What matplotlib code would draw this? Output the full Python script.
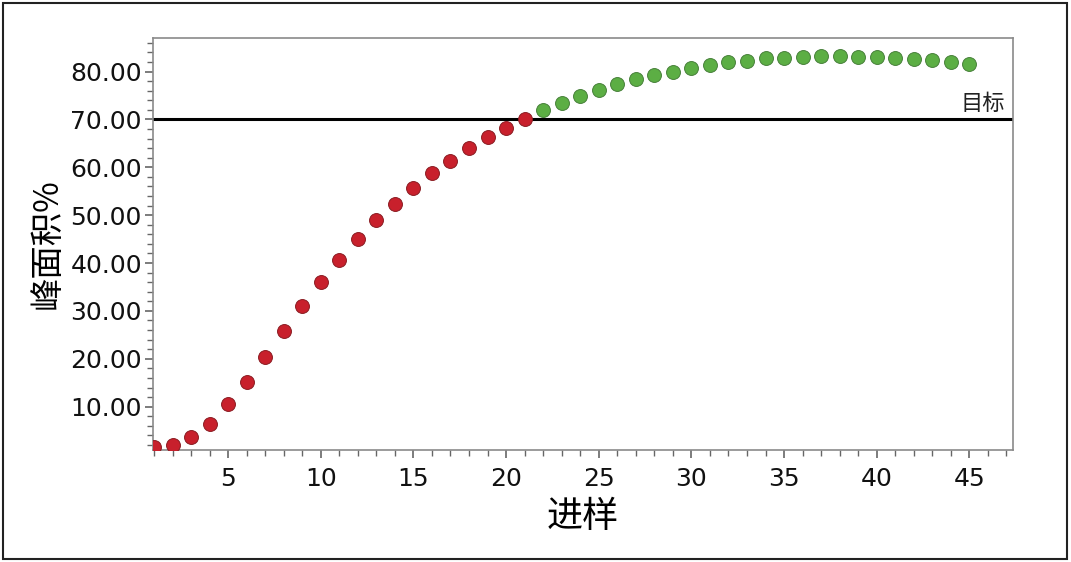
import numpy as np
import matplotlib.pyplot as plt
from matplotlib.ticker import MultipleLocator, FormatStrFormatter
from matplotlib.patches import Rectangle

plt.rcParams['font.family'] = ['DejaVu Sans', 'Noto Sans CJK SC']

# runs below target (red) and above target (green)
x_low = list(range(1, 22))
y_low = [1.5, 2.0, 3.6, 6.4, 10.5, 15.2, 20.4, 25.9, 31.0, 36.0, 40.6,
         45.0, 49.0, 52.4, 55.7, 58.7, 61.4, 64.0, 66.3, 68.1, 70.0]
x_high = list(range(22, 46))
y_high = [71.9, 73.5, 74.9, 76.1, 77.3, 78.4, 79.3, 80.0, 80.8, 81.3, 81.9,
          82.2, 82.9, 82.9, 83.1, 83.2, 83.2, 83.1, 83.1, 82.9, 82.7, 82.4,
          82.0, 81.5]
target = 70.0
target_label = "目标"

fig = plt.figure(figsize=(10.71, 5.62), dpi=100)
ax = fig.add_axes([0.1429, 0.1993, 0.8029, 0.7331])

ax.axhline(target, color='black', lw=2.2, zorder=1)
ax.scatter(x_low, y_low, s=100, color='#c8202c', edgecolors='#8a1c22',
           linewidths=0.7, zorder=3)
ax.scatter(x_high, y_high, s=100, color='#5cae44', edgecolors='#47803a',
           linewidths=0.7, zorder=3)

ax.text(46.9, target + 1.0, target_label, ha='right', va='bottom',
        fontsize=16, family=['Noto Sans CJK SC'], color='#222222')

ax.set_xlim(0.95, 47.35)
ax.set_ylim(0.95, 87.0)
ax.xaxis.set_major_locator(MultipleLocator(5))
ax.xaxis.set_minor_locator(MultipleLocator(1))
ax.yaxis.set_major_locator(MultipleLocator(10))
ax.yaxis.set_minor_locator(MultipleLocator(2))
ax.yaxis.set_major_formatter(FormatStrFormatter('%.2f'))
ax.set_yticks(np.arange(10, 90, 10))

for s in ax.spines.values():
    s.set_color('#8a8a8a')
    s.set_linewidth(1.2)

ax.tick_params(which='major', length=6, width=1.2, color='#666666',
               labelsize=18, labelcolor='#111111', pad=2)
ax.tick_params(axis='x', which='major', pad=6)
ax.tick_params(which='minor', length=4, width=1.0, color='#666666')

ax.set_xlabel("进样", fontsize=26, family=['Noto Sans CJK SC'], labelpad=6)
ax.set_ylabel("峰面积%", fontsize=24, family=['Noto Sans CJK SC'], labelpad=4)

fig.patches.append(Rectangle((0.003, 0.006), 0.993, 0.988, transform=fig.transFigure,
                             fill=False, edgecolor='#222222', lw=1.5))

fig.savefig('out.png', dpi=100)
